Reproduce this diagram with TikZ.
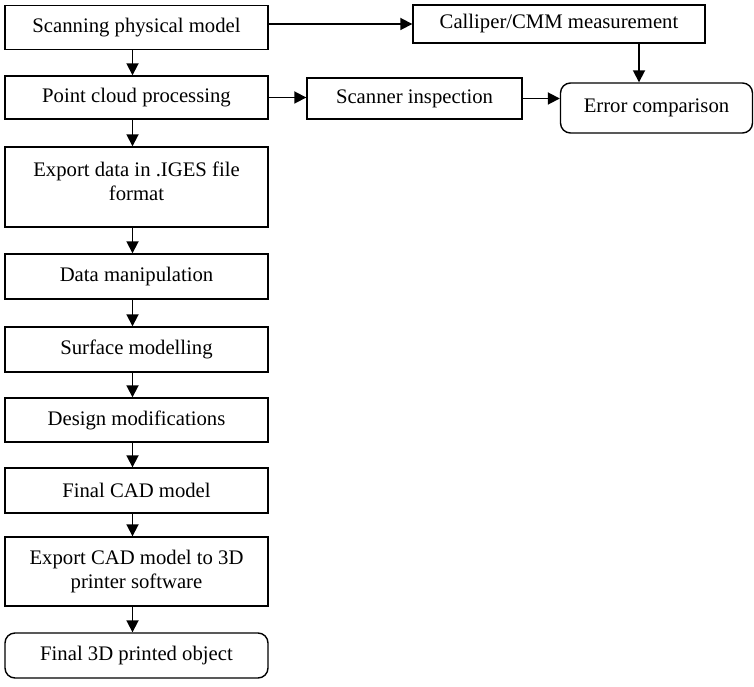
\documentclass[tikz,border=0pt]{standalone}
\usepackage{fontspec}
\setmainfont{Liberation Serif}
\usetikzlibrary{arrows.meta,positioning}
\begin{document}
\begin{tikzpicture}[x=1pt,y=-1pt,
  box/.style={draw,line width=1.4pt,align=center,inner sep=2pt,
    font=\fontsize{20.7}{23.5}\selectfont},
  rbox/.style={box,rounded corners=10pt},
  arr/.style={line width=1.8pt,-{Triangle[length=12pt,width=12pt]}}]
\useasboundingbox (0,0) rectangle (754,687);
% left column
\node[box,minimum width=263pt,minimum height=44pt] (b1) at (136.5,27.8) {Scanning physical model};
\node[box,minimum width=263pt,minimum height=43pt] (b2) at (136.5,97.5) {Point cloud processing};
\node[box,minimum width=263pt,minimum height=80pt] (b3) at (136.5,187) {Export data in .IGES file\\format\\[-12pt]\mbox{}};
\node[box,minimum width=263pt,minimum height=45pt] (b4) at (136.5,276.5) {Data manipulation};
\node[box,minimum width=263pt,minimum height=45pt] (b5) at (136.5,349.5) {Surface modelling};
\node[box,minimum width=263pt,minimum height=44pt] (b6) at (136.5,420) {Design modifications};
\node[box,minimum width=263pt,minimum height=45pt] (b7) at (136.5,490.5) {Final CAD model};
\node[box,minimum width=263pt,minimum height=69pt] (b8) at (136.5,571.5) {Export CAD model to 3D\\printer software};
\node[rbox,minimum width=263pt,minimum height=45pt] (b9) at (136.5,655.5) {Final 3D printed object};
% right part
\node[box,minimum width=292pt,minimum height=38pt] (cal) at (559,24) {Calliper/CMM measurement};
\node[box,minimum width=215pt,minimum height=41pt] (scan) at (414.5,98.5) {Scanner inspection};
\node[rbox,minimum width=192pt,minimum height=50pt] (err) at (656.5,108) {Error comparison};
% vertical arrows
\foreach \a/\b in {b1/b2,b2/b3,b3/b4,b4/b5,b5/b6,b6/b7,b7/b8,b8/b9}
  \draw[arr] ([xshift=-4pt]\a.south) -- ([xshift=-4pt]\b.north);
% other arrows
\draw[arr] (b1.east |- cal.west) -- (cal.west);
\draw[arr] (b2.east) -- (b2.east -| scan.west);
\draw[arr] (scan.east) -- (scan.east -| err.west);
\draw[arr] ([xshift=80pt]cal.south) -- ([xshift=80pt]cal.south |- err.north);
\end{tikzpicture}
\end{document}
